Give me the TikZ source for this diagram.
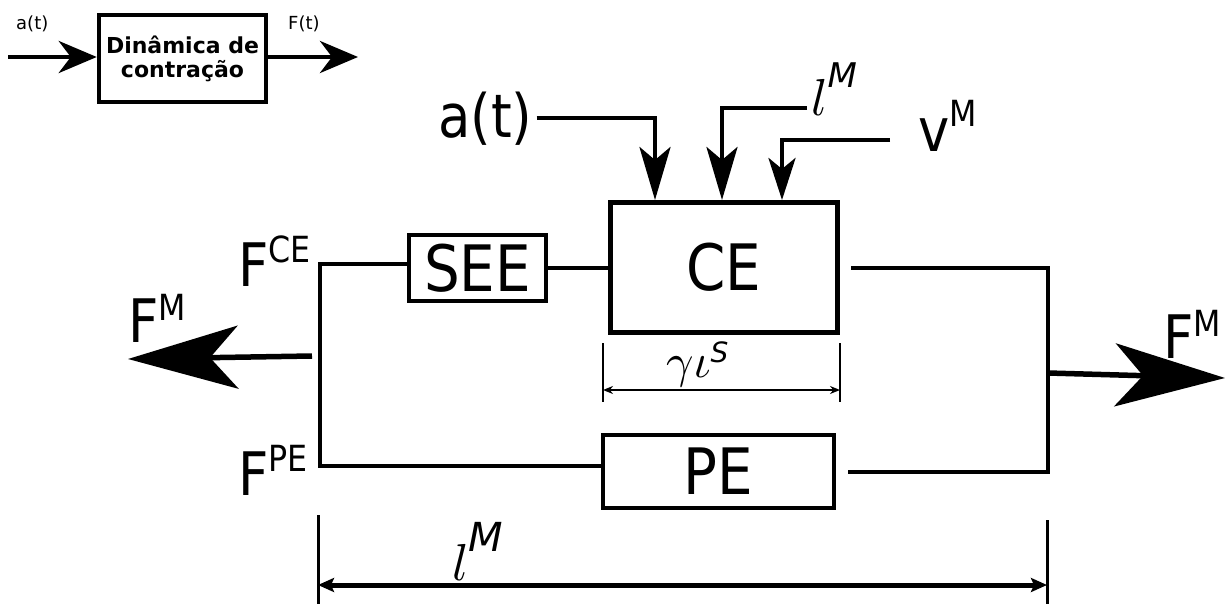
\documentclass[tikz,border=0pt]{standalone}
\usepackage{graphicx}
\usepackage{fontspec}
\setmainfont{DejaVu Sans}
\newfontfamily\tallfont[FakeStretch=0.88]{DejaVu Sans}
\usepackage{tikz}
\usetikzlibrary{arrows.meta,calc,positioning}

% letter with a raised, smaller index
\newcommand{\withsup}[3]{#1\raisebox{#2}{\fontsize{36}{36}\selectfont #3}}
% math letter scaled up, with a raised italic index
\newcommand{\itsup}[5]{\scalebox{#1}{$#2$}\raisebox{#3}{\fontsize{#4}{#4}\selectfont\itshape #5}}

\begin{document}
\begin{tikzpicture}[x=1pt,y=-1pt,
    blk/.style={draw,line width=4.5pt,inner sep=0pt,align=center},
    wire/.style={line width=4.5pt},
    bigtxt/.style={font=\tallfont\fontsize{64}{64}\selectfont},
    lbl/.style={anchor=base west,inner sep=0pt,font=\tallfont\fontsize{60}{60}\selectfont},
    tick/.style={line width=2.5pt},
    smalltip/.style={-{Stealth[length=38pt,width=32pt,inset=12pt]}},
    downtip/.style={-{Stealth[length=53pt,width=31pt,inset=13pt]}},
    bigtip/.style={-{Stealth[length=110pt,width=63pt,inset=28pt]}}]
  \useasboundingbox (0,0) rectangle (1229,604);

  % small block at the top left
  \node[blk,minimum width=167pt,minimum height=87pt,
    font=\bfseries\fontsize{22}{24}\selectfont] (dyn) at (182.5,58.5) {Dinâmica de\\contração};
  \node[anchor=base west,inner sep=0pt,font=\fontsize{18}{18}\selectfont] (asmall) at (16,30) {a(t)};
  \node[anchor=base west,inner sep=0pt,font=\fontsize{18}{18}\selectfont] (fsmall) at (288,30) {F(t)};
  \coordinate (ain) at (8,57);
  \coordinate (fout) at (358,57);
  \draw[wire,smalltip] (ain) -- (ain -| dyn.west);
  \draw[wire,smalltip] (dyn.east |- fout) -- (fout);

  % blocks
  \node[blk,line width=5pt,minimum width=227pt,minimum height=130pt,bigtxt] (ce) at (724,267.5) {CE};
  \node[blk,minimum width=137pt,minimum height=66pt,bigtxt] (see) at (477.5,268) {SEE};
  \node[blk,minimum width=231pt,minimum height=73pt,bigtxt] (pe) at (718.5,471.5) {PE};

  % labels
  \node[lbl] (fce) at (238,286) {\withsup{F}{24pt}{CE}};
  \node[lbl] (fpe) at (238,495) {\withsup{F}{24pt}{PE}};
  \node[lbl] (fml) at (128,342) {\withsup{F}{22pt}{M}};
  \node[lbl] (fmr) at (1163,358) {\withsup{F}{22pt}{M}};
  \node[lbl] (at) at (438,138) {a(t)};
  \node[lbl] (vm) at (918,152) {\withsup{v}{25pt}{M}};
  \node[anchor=base west,inner sep=0pt] (lmtop) at (811,116) {\itsup{5.2}{l}{28pt}{34}{M}};
  \node[anchor=base west,inner sep=0pt] (gs) at (666,377) {\itsup{4.8}{\gamma\iota}{15pt}{28}{S}};
  \node[anchor=base west,inner sep=0pt] (lmbot) at (452,580) {\itsup{5.2}{l}{29pt}{40}{M}};

  % inputs of CE
  \coordinate (abend) at (655,118);
  \coordinate (lbend) at (722,108);
  \coordinate (vbend) at (782,140);
  \draw[wire,downtip,shorten <=4pt] (at.east |- abend) -- (abend) -- (abend |- ce.north);
  \draw[wire,downtip,shorten <=4pt] (lmtop.west |- lbend) -- (lbend) -- (lbend |- ce.north);
  \draw[wire,-{Stealth[length=42pt,width=27pt,inset=11pt]},shorten <=28pt]
    (vm.west |- vbend) -- (vbend) -- (vbend |- ce.north);

  % left side
  \coordinate (jce) at (320,264);
  \coordinate (jpe) at (320,466);
  \draw[wire] (see.west |- jce) -- (jce) -- (jpe) -- (jpe -| pe.west);
  \draw[wire] (see.east) -- (see.east -| ce.west);

  % right side
  \coordinate (rtop) at (1048,268);
  \coordinate (rbot) at (1048,472);
  \draw[wire,shorten <=11pt,shorten >=12pt] (rtop -| ce.east) -- (rtop) -- (rbot) -- (rbot -| pe.east);

  % output forces
  \coordinate (lstart) at (312,356);
  \coordinate (ltip) at (128,359);
  \coordinate (rstart) at (1048,373);
  \coordinate (rtip) at (1225,378);
  \draw[line width=5.5pt,bigtip] (lstart) -- (ltip);
  \draw[line width=5.5pt,bigtip] (rstart) -- (rtip);

  % dimensions
  \draw[tick] (603,343) -- (603,402);
  \draw[tick] (840,343) -- (840,402);
  \coordinate (gsl) at (603,390);
  \coordinate (gsr) at (840,390);
  \draw[tick,{Stealth[length=10pt,width=8pt]}-{Stealth[length=10pt,width=8pt]}] (gsl) -- (gsr);
  \draw[line width=3pt] (318,515) -- (318,604);
  \draw[line width=3pt] (1047,520) -- (1047,604);
  \coordinate (lml) at (318,585);
  \coordinate (lmr) at (1047,585);
  \draw[line width=5pt,{Stealth[length=16pt,width=14pt,inset=3pt]}-{Stealth[length=16pt,width=14pt,inset=3pt]}] (lml) -- (lmr);
\end{tikzpicture}
\end{document}
